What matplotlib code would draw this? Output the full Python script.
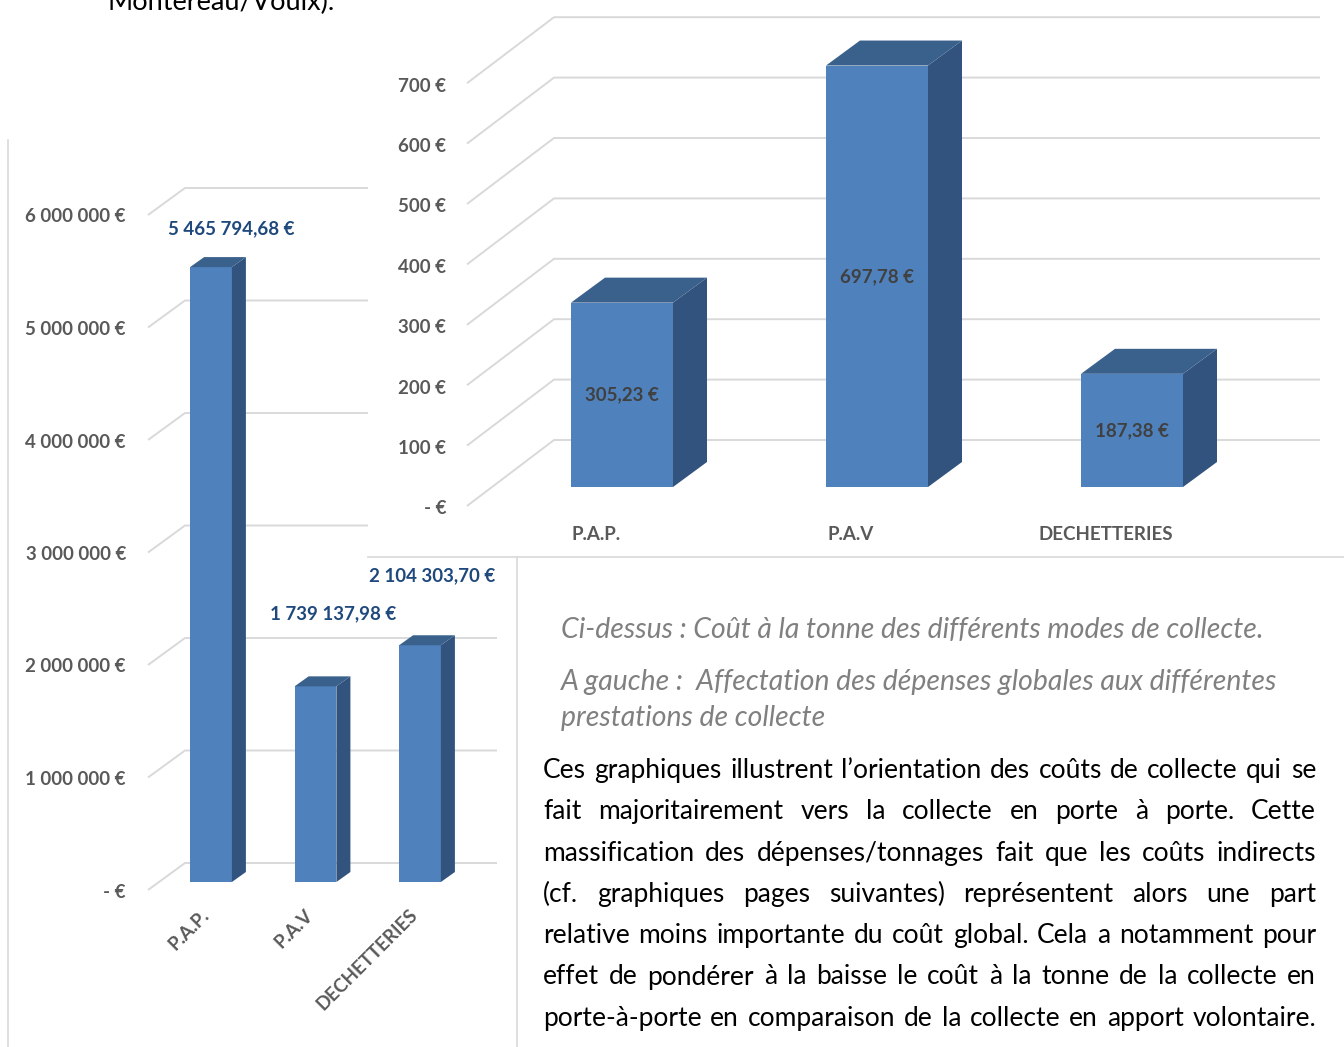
import numpy as np
import matplotlib
matplotlib.use('Agg')
import matplotlib.pyplot as plt
from matplotlib.patches import Polygon

plt.rcParams['font.family'] = ['Lato', 'DejaVu Sans']

# ---- data
categories = ['P.A.P.', 'P.A.V', 'DECHETTERIES']
depenses = [5465794.68, 1739137.98, 2104303.70]   # dépenses globales (EUR)
cout_tonne = [305.23, 697.78, 187.38]             # coût à la tonne (EUR/t)
ticks_depenses = [0, 1e6, 2e6, 3e6, 4e6, 5e6, 6e6]
ticks_cout = [0, 100, 200, 300, 400, 500, 600, 700]

top_line = 'Montereau/Voulx).'
captions = ['Ci-dessus : Coût à la tonne des différents modes de collecte.',
            'A gauche :  Affectation des dépenses globales aux différentes',
            'prestations de collecte']
paragraph = ['Ces graphiques illustrent l\u2019orientation des coûts de collecte qui se',
             'fait majoritairement vers la collecte en porte à porte. Cette',
             'massification des dépenses/tonnages fait que les coûts indirects',
             '(cf. graphiques pages suivantes) représentent alors une part',
             'relative moins importante du coût global. Cela a notamment pour',
             'effet de pondérer à la baisse le coût à la tonne de la collecte en',
             'porte-à-porte en comparaison de la collecte en apport volontaire.']

# ---- style
W, H = 1344, 1047
FRONT, SIDE, TOP = '#4F81BD', '#32537D', '#3A608C'
GRID, AXIS_TXT = '#D9D9D9', '#595959'
LBL = dict(fontsize=13.5, fontweight='bold')

fig = plt.figure(figsize=(W / 100, H / 100), dpi=100)
fig.patch.set_facecolor('white')
renderer = fig.canvas.get_renderer()


def px_axes(x0, y0, x1, y1, **kw):
    return fig.add_axes([x0 / W, 1 - y1 / H, (x1 - x0) / W, (y1 - y0) / H], **kw)


def to_page(ax, x, y):
    d = ax.transData.transform((x, y))
    return d[0], H - d[1]


def to_data(ax, xp, yp):
    return ax.transData.inverted().transform((xp, H - yp))


def set_scale(ax, box, cx0, step, y0, ppu):
    # category 0 centred at page x cx0, value 0 at page y y0, ppu pixels per unit
    ax.set_xlim((box[0] - cx0) / step, (box[2] - cx0) / step)
    ax.set_ylim((y0 - box[3]) / ppu, (y0 - box[1]) / ppu)


def fmt_int(v):
    if v == 0:
        return '-\u00a0€'
    return f'{v:,.0f} €'.replace(',', ' ')


def fmt_dec(v):
    return f'{v:,.2f} €'.replace(',', 'X').replace('.', ',').replace('X', ' ')


def bars_3d(ax, values, ticks, cfg):
    x = np.arange(len(values))
    bars = ax.bar(x, values, width=0.4, color=FRONT, zorder=3)
    ddx, ddy = cfg['depth']
    for b in bars:
        x0, x1, v = b.get_x(), b.get_x() + b.get_width(), b.get_height()
        px0, py0 = to_page(ax, x0, v)
        px1, py1 = to_page(ax, x1, v)
        _, pyb = to_page(ax, x1, 0)
        side = [to_data(ax, px1, pyb), to_data(ax, px1, py1),
                to_data(ax, px1 + ddx, py1 - ddy), to_data(ax, px1 + ddx, pyb - ddy)]
        top = [to_data(ax, px0, py0), to_data(ax, px1, py1),
               to_data(ax, px1 + ddx, py1 - ddy), to_data(ax, px0 + ddx, py0 - ddy)]
        ax.add_patch(Polygon(side, closed=True, facecolor=SIDE, edgecolor='none', zorder=3))
        ax.add_patch(Polygon(top, closed=True, facecolor=TOP, edgecolor='none', zorder=3))
    # back wall + floor-side gridlines, labels at the front ends
    for t in ticks:
        _, yp = to_page(ax, 0, t)
        yb, yf = yp - cfg['wall_dy'], yp + cfg['front_dy']
        pts = np.array([to_data(ax, cfg['front_x'], yf),
                        to_data(ax, cfg['wall_x'][0], yb),
                        to_data(ax, cfg['wall_x'][1], yb)])
        ax.plot(pts[:, 0], pts[:, 1], color=GRID, lw=1.4, zorder=1,
                solid_capstyle='butt')
        lx, ly = to_data(ax, cfg['label_x'], yf + cfg['label_dy'])
        ax.text(lx, ly, fmt_int(t), ha='right', va='center', color=AXIS_TXT, **LBL)
    return bars


# ---- page overlay (text, frame lines)
page = px_axes(0, 0, W, H, zorder=5)
page.set_xlim(0, W)
page.set_ylim(H, 0)
page.axis('off')
page.patch.set_alpha(0)

# ---- left chart: dépenses globales
left_box = (8, 140, 517, 1047)
axl = px_axes(*left_box, zorder=1)
axl.patch.set_alpha(0)
set_scale(axl, left_box, 211, 104.5, 882, 112.5e-6)
bars_3d(axl, depenses, ticks_depenses,
        dict(depth=(14, 10), wall_dy=19, front_dy=8, front_x=148,
             wall_x=(185, 497), label_x=126, label_dy=2))
for s in ['top', 'right', 'bottom']:
    axl.spines[s].set_visible(False)
axl.spines['left'].set_color(GRID)
axl.spines['left'].set_linewidth(1.2)
axl.set_xticks([])
axl.set_yticks([])

label_shift = [(20, 38), (18, 73), (12, 70)]
for i, (v, cat) in enumerate(zip(depenses, categories)):
    cx, ty = to_page(axl, i, v)
    lx, ly = to_data(axl, cx + label_shift[i][0], ty - label_shift[i][1])
    axl.text(lx, ly, fmt_dec(v), ha='center', va='center', color='#1F497D', **LBL)
    _, by = to_page(axl, i, 0)
    tx, tyy = to_data(axl, cx - 11, by + 24)
    axl.text(tx, tyy, cat, ha='right', va='top', rotation=45,
             rotation_mode='anchor', color=AXIS_TXT, **LBL)

# ---- right chart: coût à la tonne
right_box = (368, 0, 1344, 557)
axr = px_axes(*right_box, zorder=2)
axr.set_facecolor('white')
set_scale(axr, right_box, 622, 255, 487, 0.604)
bars_3d(axr, cout_tonne, ticks_cout,
        dict(depth=(34, 25), wall_dy=47, front_dy=19, front_x=467,
             wall_x=(554, 1320), label_x=446, label_dy=3))
for s in ['top', 'right', 'left']:
    axr.spines[s].set_visible(False)
axr.spines['bottom'].set_color(GRID)
axr.spines['bottom'].set_linewidth(1.2)
axr.set_xticks([])
axr.set_yticks([])

for i, (v, cat) in enumerate(zip(cout_tonne, categories)):
    axr.text(i, v / 2, fmt_dec(v), ha='center', va='center', color='#404040',
             zorder=4, **LBL)
    cx, by = to_page(axr, i, 0)
    tx, ty = to_data(axr, cx - 26, by + 47)
    axr.text(tx, ty, cat, ha='center', va='center', color=AXIS_TXT, **LBL)

# ---- text box frame
page.plot([517, 517], [557, H], color=GRID, lw=1.2)


def fit_size(text, target, base=16, **kw):
    t = page.text(0, 0, text, fontsize=base, **kw)
    w = t.get_window_extent(renderer).width
    t.remove()
    return base * target / w


def justified(lines, x0, x1, y0, step, fs, **kw):
    for i, line in enumerate(lines):
        words = line.split(' ')
        objs = [page.text(0, y0 + i * step, w, fontsize=fs, va='baseline', **kw)
                for w in words]
        widths = [o.get_window_extent(renderer).width for o in objs]
        gap = (x1 - x0 - sum(widths)) / (len(words) - 1)
        x = x0
        for o, w in zip(objs, widths):
            o.set_x(x)
            x += w + gap


# first line of the page is cut by the top edge, as in the original scan
fs_top = fit_size(top_line, 228)
page.text(107, 10, top_line, fontsize=fs_top, va='baseline', color='black')

fs_cap = fit_size(captions[0], 704, style='italic')
for txt, y in zip(captions, [638, 690, 726]):
    page.text(561, y, txt, fontsize=fs_cap, style='italic', va='baseline',
              color='#808080')

fs_par = min(fit_size(l, 760) for l in paragraph)
justified(paragraph, 543, 1316, 778, 41.3, fs_par, color='black')

fig.savefig('out.png', dpi=100, facecolor='white')
